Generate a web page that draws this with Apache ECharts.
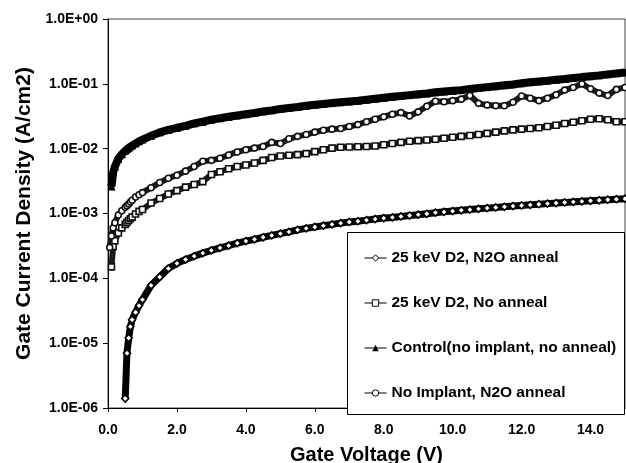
<!DOCTYPE html>
<html lang="en">
<head>
  <meta charset="UTF-8">
  <title>Gate Current Density</title>
  <script src="https://cdn.jsdelivr.net/npm/echarts@6/dist/echarts.min.js"></script>
  <style>
    html, body { margin: 0; padding: 0; background: #fff; }
    #chart { width: 626px; height: 463px; }
  </style>
</head>
<body>
  <div id="chart"></div>
  <script>
    // gate voltage (V)
    const voltage = [
      0.05, 0.1, 0.15, 0.2, 0.3, 0.4, 0.5, 0.55, 0.6, 0.65, 0.7, 0.8, 0.9,
      1.0, 1.25, 1.5, 1.75, 2.0, 2.25, 2.5, 2.75, 3.0, 3.25, 3.5, 3.75,
      4.0, 4.25, 4.5, 4.75, 5.0, 5.25, 5.5, 5.75, 6.0, 6.25, 6.5, 6.75,
      7.0, 7.25, 7.5, 7.75, 8.0, 8.25, 8.5, 8.75, 9.0, 9.25, 9.5, 9.75,
      10.0, 10.25, 10.5, 10.75, 11.0, 11.25, 11.5, 11.75, 12.0, 12.25, 12.5, 12.75,
      13.0, 13.25, 13.5, 13.75, 14.0, 14.25, 14.5, 14.75, 15.0
    ];

    // current density (A/cm2), one value per voltage, null = no point
    const d2N2O = [
      null, null, null, null, null, null, 1.4e-6, 7e-6, 1.2e-5, 1.8e-5, 2.3e-5, 3.0e-5, 3.8e-5,
      4.7e-5, 7.8e-5, 1.05e-4, 1.42e-4, 1.7e-4, 1.95e-4, 2.2e-4, 2.45e-4, 2.7e-4, 2.95e-4, 3.2e-4, 3.5e-4,
      3.75e-4, 4.0e-4, 4.3e-4, 4.6e-4, 4.9e-4, 5.2e-4, 5.6e-4, 5.9e-4, 6.2e-4, 6.5e-4, 6.8e-4, 7.1e-4,
      7.4e-4, 7.6e-4, 7.9e-4, 8.2e-4, 8.5e-4, 8.7e-4, 9.0e-4, 9.3e-4, 9.6e-4, 9.9e-4, 1.03e-3, 1.06e-3,
      1.09e-3, 1.12e-3, 1.15e-3, 1.18e-3, 1.21e-3, 1.24e-3, 1.27e-3, 1.3e-3, 1.33e-3, 1.36e-3, 1.39e-3, 1.42e-3,
      1.45e-3, 1.48e-3, 1.51e-3, 1.54e-3, 1.57e-3, 1.6e-3, 1.63e-3, 1.66e-3, 1.69e-3
    ];
    const d2NoAnneal = [
      null, 1.5e-4, 3.1e-4, 3.8e-4, 5.0e-4, 6.0e-4, 6.8e-4, 7.3e-4, 7.8e-4, 8.3e-4, 8.8e-4, 9.8e-4, 1.08e-3,
      1.15e-3, 1.45e-3, 1.7e-3, 2.0e-3, 2.25e-3, 2.55e-3, 2.8e-3, 3.1e-3, 4.0e-3, 4.4e-3, 4.9e-3, 5.3e-3,
      5.6e-3, 6.0e-3, 6.6e-3, 7.3e-3, 7.7e-3, 7.9e-3, 8.1e-3, 8.4e-3, 9.0e-3, 9.6e-3, 1.02e-2, 1.05e-2,
      1.06e-2, 1.07e-2, 1.08e-2, 1.1e-2, 1.15e-2, 1.2e-2, 1.25e-2, 1.3e-2, 1.33e-2, 1.36e-2, 1.4e-2, 1.45e-2,
      1.5e-2, 1.55e-2, 1.6e-2, 1.65e-2, 1.72e-2, 1.8e-2, 1.88e-2, 1.95e-2, 2.0e-2, 2.05e-2, 2.1e-2, 2.2e-2,
      2.3e-2, 2.45e-2, 2.55e-2, 2.7e-2, 2.85e-2, 2.9e-2, 2.8e-2, 2.6e-2, 2.6e-2
    ];
    const control = [
      null, 2.6e-3, 4.3e-3, 5.3e-3, 7.0e-3, 8.2e-3, 9.3e-3, 9.8e-3, 1.03e-2, 1.08e-2, 1.12e-2, 1.2e-2, 1.3e-2,
      1.38e-2, 1.58e-2, 1.78e-2, 1.95e-2, 2.1e-2, 2.25e-2, 2.45e-2, 2.6e-2, 2.8e-2, 2.95e-2, 3.1e-2, 3.25e-2,
      3.4e-2, 3.55e-2, 3.75e-2, 3.9e-2, 4.1e-2, 4.25e-2, 4.4e-2, 4.6e-2, 4.75e-2, 4.9e-2, 5.05e-2, 5.2e-2,
      5.35e-2, 5.5e-2, 5.7e-2, 5.9e-2, 6.1e-2, 6.3e-2, 6.5e-2, 6.7e-2, 6.9e-2, 7.1e-2, 7.4e-2, 7.6e-2,
      7.8e-2, 8.0e-2, 8.3e-2, 8.6e-2, 8.9e-2, 9.2e-2, 9.5e-2, 9.8e-2, 0.102, 0.106, 0.109, 0.112,
      0.116, 0.119, 0.123, 0.127, 0.131, 0.135, 0.140, 0.145, 0.150
    ];
    const noImplant = [
      3.0e-4, 4.5e-4, 6.0e-4, 7.2e-4, 9.5e-4, 1.1e-3, 1.25e-3, 1.32e-3, 1.4e-3, 1.5e-3, 1.6e-3, 1.8e-3, 1.95e-3,
      2.1e-3, 2.5e-3, 3.0e-3, 3.5e-3, 3.9e-3, 4.5e-3, 5.3e-3, 6.4e-3, 6.6e-3, 7.1e-3, 8.0e-3, 8.9e-3,
      9.6e-3, 1.02e-2, 1.08e-2, 1.25e-2, 1.2e-2, 1.42e-2, 1.55e-2, 1.65e-2, 1.8e-2, 1.92e-2, 2.0e-2, 2.05e-2,
      2.2e-2, 2.35e-2, 2.6e-2, 2.85e-2, 3.1e-2, 3.4e-2, 3.6e-2, 3.2e-2, 3.7e-2, 4.5e-2, 5.4e-2, 5.3e-2,
      5.5e-2, 5.8e-2, 6.6e-2, 5.0e-2, 4.7e-2, 4.6e-2, 4.6e-2, 5.2e-2, 6.5e-2, 6.0e-2, 5.5e-2, 6.0e-2,
      6.8e-2, 8.0e-2, 8.8e-2, 1.0e-1, 8.4e-2, 7.2e-2, 6.6e-2, 8.2e-2, 8.8e-2
    ];

    const names = [
      '25 keV D2, N2O anneal',
      '25 keV D2, No anneal',
      'Control(no implant, no anneal)',
      'No Implant, N2O anneal'
    ];

    const font = '"Liberation Sans", Arial, sans-serif';

    function pairs(values) {
      return voltage.map((v, i) => [v, values[i]]).filter(p => p[1] != null);
    }

    function expLabel(v) {
      const e = Math.round(Math.log10(v));
      return '1.0E' + (e < 0 ? '-' : '+') + String(Math.abs(e)).padStart(2, '0');
    }

    const chart = echarts.init(document.getElementById('chart'));

    const option = {
      animation: false,
      backgroundColor: '#fff',
      grid: {
        left: 108, right: 1, top: 19, bottom: 55,
        outerBoundsMode: 'none',
        containLabel: false,
        show: true, borderColor: '#444', borderWidth: 1
      },
      xAxis: {
        type: 'value',
        min: 0, max: 15, interval: 2,
        name: 'Gate Voltage (V)',
        nameLocation: 'middle',
        nameGap: 37,
        nameTextStyle: { fontFamily: font, fontWeight: 'bold', fontSize: 20, color: '#000' },
        axisLine: { lineStyle: { color: '#000', width: 1 } },
        axisTick: { length: 4, lineStyle: { color: '#000' } },
        axisLabel: {
          fontFamily: font, fontWeight: 'bold', fontSize: 14, color: '#000', margin: 15,
          showMaxLabel: false,
          formatter: v => v.toFixed(1)
        },
        splitLine: { show: false }
      },
      yAxis: {
        type: 'log',
        logBase: 10,
        min: 1e-6, max: 1,
        name: 'Gate Current Density (A/cm2)',
        nameLocation: 'middle',
        nameGap: 72,
        nameTextStyle: { fontFamily: font, fontWeight: 'bold', fontSize: 21, color: '#000' },
        axisLine: { show: true, lineStyle: { color: '#000', width: 1 } },
        axisTick: { show: true, length: 5, lineStyle: { color: '#000' } },
        axisLabel: {
          fontFamily: font, fontWeight: 'bold', fontSize: 14, color: '#000', margin: 10,
          formatter: expLabel
        },
        splitLine: { show: false },
        minorTick: { show: false }
      },
      legend: {
        orient: 'vertical',
        left: 364,
        top: 250,
        itemGap: 29,
        itemWidth: 22,
        itemHeight: 8,
        padding: 0,
        z: 20,
        data: [
          { name: names[0], itemStyle: { color: '#fff', borderColor: '#000', borderWidth: 1 } },
          { name: names[1], itemStyle: { color: '#fff', borderColor: '#000', borderWidth: 1 } },
          { name: names[2], itemStyle: { color: '#000', borderColor: '#000' } },
          { name: names[3], itemStyle: { color: '#fff', borderColor: '#000', borderWidth: 1 } }
        ],
        lineStyle: { width: 1, color: '#000' },
        textStyle: { fontFamily: font, fontWeight: 'bold', fontSize: 15.5, color: '#000' }
      },
      graphic: [{
        type: 'rect',
        z: 10,
        shape: { x: 347.5, y: 232.5, width: 277, height: 182 },
        style: { fill: '#fff', stroke: '#000', lineWidth: 1 }
      }],
      series: [
        {
          name: names[0],
          type: 'line',
          data: pairs(d2N2O),
          symbol: 'diamond',
          symbolSize: 7,
          itemStyle: { color: '#fff', borderColor: '#000', borderWidth: 1.6 },
          lineStyle: { color: '#000', width: 7 }
        },
        {
          name: names[1],
          type: 'line',
          data: pairs(d2NoAnneal),
          symbol: 'rect',
          symbolSize: 6,
          itemStyle: { color: '#fff', borderColor: '#111', borderWidth: 1.6 },
          lineStyle: { color: '#1a1a1a', width: 6 }
        },
        {
          name: names[2],
          type: 'line',
          data: pairs(control),
          symbol: 'triangle',
          symbolSize: 7,
          itemStyle: { color: '#000', borderColor: '#000' },
          lineStyle: { color: '#000', width: 8 }
        },
        {
          name: names[3],
          type: 'line',
          data: pairs(noImplant),
          symbol: 'circle',
          symbolSize: 6,
          itemStyle: { color: '#fff', borderColor: '#111', borderWidth: 1.6 },
          lineStyle: { color: '#1a1a1a', width: 6 }
        }
      ]
    };

    chart.setOption(option);
  </script>
</body>
</html>
